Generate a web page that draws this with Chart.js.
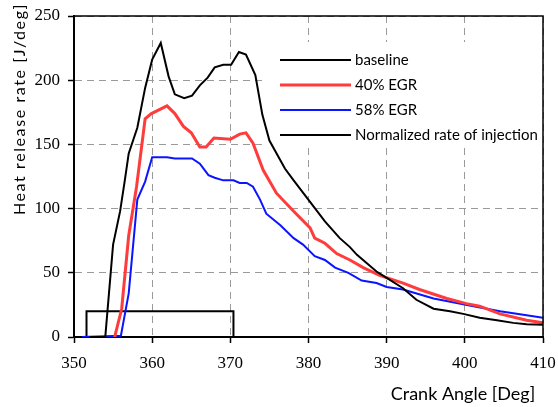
<!DOCTYPE html>
<html>
<head>
<meta charset="utf-8">
<script src="https://cdn.jsdelivr.net/npm/chart.js@4"></script>
<style>
  html, body { margin: 0; padding: 0; background: #fff; }
</style>
</head>
<body>
<canvas id="chart" width="558" height="407"></canvas>
<script>
// values
const angleTicks = [350, 360, 370, 380, 390, 400, 410];
const hrrTicks = [0, 50, 100, 150, 200, 250];

const baselineAngle = [352, 354.0, 355.0, 355.9, 356.5, 357.0, 358.1, 359.1, 360.0, 361.1, 362.1, 362.9, 364.1, 365.1, 366.1, 367.1, 368.0, 369.1, 370.1, 371.1, 372.0, 373.2, 374.1, 375.0, 377.0, 378.1, 380.1, 382.1, 384.0, 385.3, 386.2, 388.7, 390.0, 392.1, 393.8, 396.0, 398.1, 399.8, 401.9, 404.1, 406.2, 407.9, 410];
const baselineHrr = [0, 0, 72, 98, 122, 143, 163, 194, 216, 229, 203, 189, 186, 188, 196, 202, 210, 212, 212, 222, 220, 204, 173, 153, 131, 122, 106, 90, 77, 70, 64, 51, 46, 38, 29, 22, 20, 18, 15, 13, 11, 10, 9.6];

const egr40Angle = [355.2, 356.1, 357.0, 358.0, 359.1, 359.9, 361.9, 362.9, 364.0, 365.0, 366.1, 366.9, 367.9, 370.0, 371.2, 372.0, 372.9, 374.2, 375.9, 378.1, 380.2, 380.8, 382.1, 383.6, 385.3, 387.0, 389.1, 392.1, 394.2, 397.7, 400.2, 401.9, 404.5, 407.9, 410];
const egr40Hrr = [0, 22, 79, 117, 170, 174, 180, 174, 164, 159, 148, 148, 155, 154, 158, 159, 151, 130, 112, 98, 85, 77, 73, 65, 60, 54, 48, 42, 37, 30, 26, 24, 18, 13, 11];

const egr58Angle = [351.0, 356.0, 357.0, 358.1, 359.1, 360.0, 361.9, 362.9, 365.1, 366.1, 367.2, 368.0, 369.1, 370.4, 371.2, 372.1, 372.9, 373.8, 374.6, 376.4, 378.1, 379.3, 380.8, 382.1, 383.4, 385.1, 386.8, 388.7, 390.0, 392.1, 396.0, 401.1, 404.5, 407.9, 410];
const egr58Hrr = [0, 1, 34, 107, 121, 140, 140, 139, 139, 135, 126, 124, 122, 122, 120, 120, 117, 107, 96, 87, 77, 72, 63, 60, 54, 50, 44, 42, 39, 37, 30, 24, 20, 17, 15];

const injectionAngle = [351.6, 351.6, 370.4, 370.4];
const injectionRate = [0, 20, 20, 0];

function pts(xs, ys) {
  return xs.map((x, i) => ({ x: x, y: ys[i] }));
}

// white box with the legend inside the plot, top right
const legendBox = {
  id: "legendBox",
  beforeDatasetsDraw(chart) {
    const ctx = chart.ctx;
    ctx.save();
    ctx.fillStyle = "#fff";
    ctx.fillRect(264, 42, 276, 103);
    ctx.restore();
  },
  afterDatasetsDraw(chart) {
    const ctx = chart.ctx;
    ctx.save();
    ctx.font = "15px Lato";
    ctx.textBaseline = "middle";
    ctx.textAlign = "left";
    chart.data.datasets.forEach((ds, i) => {
      const y = 60 + i * 25;
      ctx.strokeStyle = ds.borderColor;
      ctx.lineWidth = ds.borderWidth;
      ctx.beginPath();
      ctx.moveTo(280, y);
      ctx.lineTo(351, y);
      ctx.stroke();
      ctx.fillStyle = "#000";
      ctx.fillText(ds.label, 355, y);
    });
    ctx.restore();
  }
};

// top/right frame and the two axis titles
const frameAndTitles = {
  id: "frameAndTitles",
  afterDraw(chart) {
    const ctx = chart.ctx;
    const a = chart.chartArea;
    ctx.save();
    ctx.strokeStyle = "#000";
    ctx.lineWidth = 1.5;
    ctx.beginPath();
    ctx.moveTo(a.left, a.top);
    ctx.lineTo(a.right, a.top);
    ctx.lineTo(a.right, a.bottom);
    ctx.stroke();

    ctx.fillStyle = "#000";
    ctx.font = "18px Lato";
    ctx.textAlign = "center";
    ctx.textBaseline = "alphabetic";
    ctx.fillText("Crank Angle [Deg]", 463, 400);

    ctx.translate(25, 109);
    ctx.rotate(-Math.PI / 2);
    ctx.font = "16px Lato";
    ctx.letterSpacing = "1.6px";
    ctx.fillText("Heat release rate [J/deg]", 0, 0);
    ctx.restore();
  }
};

const gridStyle = {
  color: "#9a9a9a",
  lineWidth: 1,
  tickColor: "#000",
  tickLength: 6,
  tickWidth: 1.5
};

new Chart(document.getElementById("chart"), {
  type: "scatter",
  data: {
    datasets: [
      { label: "baseline", data: pts(baselineAngle, baselineHrr), borderColor: "#000", borderWidth: 2 },
      { label: "40% EGR", data: pts(egr40Angle, egr40Hrr), borderColor: "#ff3c3c", borderWidth: 3 },
      { label: "58% EGR", data: pts(egr58Angle, egr58Hrr), borderColor: "#0a14ff", borderWidth: 2 },
      { label: "Normalized rate of injection", data: pts(injectionAngle, injectionRate), borderColor: "#000", borderWidth: 2 }
    ].map(ds => Object.assign(ds, { showLine: true, pointRadius: 0, tension: 0, fill: false }))
  },
  options: {
    responsive: false,
    animation: false,
    layout: { padding: { top: 16, right: 15, left: 0, bottom: 0 } },
    plugins: {
      legend: { display: false },
      tooltip: { enabled: false }
    },
    scales: {
      x: {
        type: "linear",
        min: 350,
        max: 410,
        afterBuildTicks: s => { s.ticks = angleTicks.map(v => ({ value: v })); },
        afterFit: s => { s.height = 70; s.paddingLeft = 0; s.paddingRight = 0; },
        grid: gridStyle,
        border: { color: "#000", width: 2, dash: [7, 5] },
        ticks: { color: "#000", padding: 10, font: { family: "Liberation Serif", size: 17 } }
      },
      y: {
        min: 0,
        max: 250,
        afterBuildTicks: s => { s.ticks = hrrTicks.map(v => ({ value: v })); },
        afterFit: s => { s.width = 74; s.paddingTop = 0; s.paddingBottom = 0; },
        grid: gridStyle,
        border: { color: "#000", width: 2, dash: [7, 5] },
        ticks: { color: "#000", padding: 8, font: { family: "Liberation Serif", size: 17 } }
      }
    }
  },
  plugins: [legendBox, frameAndTitles]
});
</script>
</body>
</html>
